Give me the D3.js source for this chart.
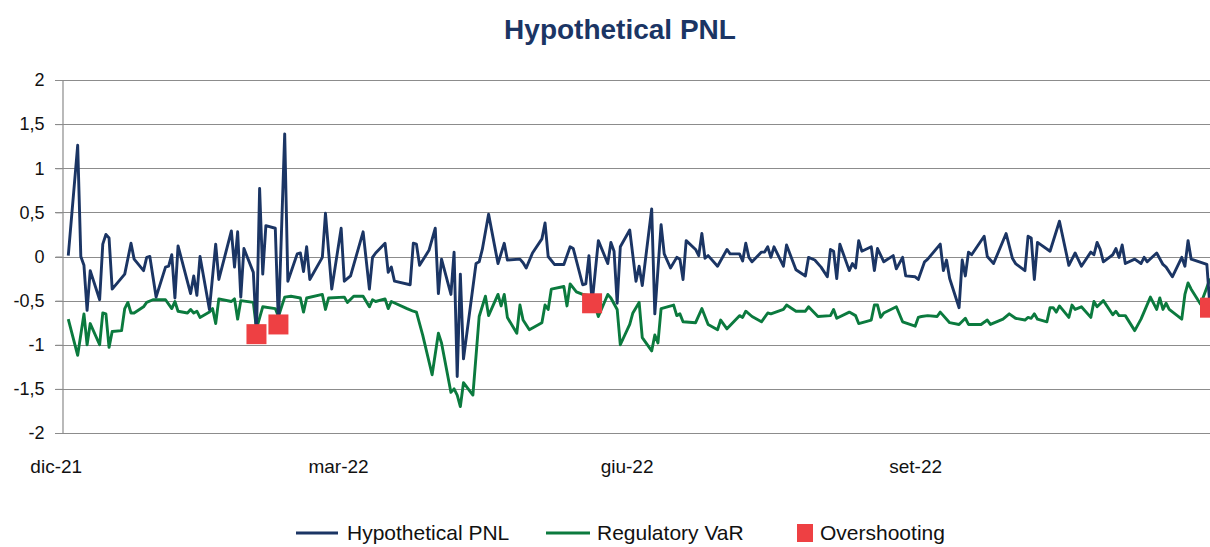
<!DOCTYPE html>
<html>
<head>
<meta charset="utf-8">
<script src="https://cdn.jsdelivr.net/npm/d3@7"></script>
<style>
    body { margin: 0; background: #fff; }
    svg { display: block; font-family: "Liberation Sans", Arial, sans-serif; }
</style>
</head>
<body>
<div id="chart"></div>
<script>
// Hypothetical PNL vs Regulatory VaR, daily values
var pnlDates = ["2021-12-05","2021-12-08","2021-12-09","2021-12-10","2021-12-11","2021-12-12","2021-12-15","2021-12-16","2021-12-17","2021-12-18",
    "2021-12-19","2021-12-23","2021-12-25","2021-12-26","2021-12-29","2021-12-30","2021-12-31","2022-01-01","2022-01-02","2022-01-05",
    "2022-01-06","2022-01-07","2022-01-08","2022-01-09","2022-01-13","2022-01-14","2022-01-15","2022-01-16","2022-01-19","2022-01-21",
    "2022-01-22","2022-01-26","2022-01-27","2022-01-28","2022-01-29","2022-01-30","2022-02-02","2022-02-03","2022-02-04","2022-02-05",
    "2022-02-06","2022-02-09","2022-02-10","2022-02-12","2022-02-13","2022-02-16","2022-02-17","2022-02-18","2022-02-19","2022-02-20",
    "2022-02-24","2022-02-25","2022-02-27","2022-03-02","2022-03-03","2022-03-05","2022-03-09","2022-03-11","2022-03-12","2022-03-13",
    "2022-03-16","2022-03-17","2022-03-18","2022-03-19","2022-03-24","2022-03-25","2022-03-26","2022-03-27","2022-03-30","2022-04-01",
    "2022-04-02","2022-04-03","2022-04-06","2022-04-07","2022-04-08","2022-04-09","2022-04-10","2022-04-14","2022-04-15","2022-04-16",
    "2022-04-18","2022-04-21","2022-04-23","2022-04-24","2022-04-28","2022-04-29","2022-04-30","2022-05-02","2022-05-05","2022-05-06",
    "2022-05-07","2022-05-09","2022-05-12","2022-05-14","2022-05-15","2022-05-18","2022-05-19","2022-05-20","2022-05-21","2022-05-23",
    "2022-05-26","2022-05-27","2022-05-28","2022-05-29","2022-05-30","2022-06-02","2022-06-04","2022-06-05","2022-06-06","2022-06-09",
    "2022-06-10","2022-06-12","2022-06-13","2022-06-15","2022-06-17","2022-06-18","2022-06-19","2022-06-20","2022-06-23","2022-06-24",
    "2022-06-25","2022-06-26","2022-06-27","2022-06-30","2022-07-03","2022-07-04","2022-07-07","2022-07-08","2022-07-09","2022-07-10",
    "2022-07-11","2022-07-14","2022-07-15","2022-07-16","2022-07-17","2022-07-18","2022-07-21","2022-07-22","2022-07-25","2022-07-28",
    "2022-07-29","2022-07-31","2022-08-02","2022-08-04","2022-08-05","2022-08-06","2022-08-07","2022-08-08","2022-08-11","2022-08-12",
    "2022-08-13","2022-08-14","2022-08-15","2022-08-18","2022-08-19","2022-08-20","2022-08-22","2022-08-25","2022-08-26","2022-08-28",
    "2022-08-29","2022-09-01","2022-09-02","2022-09-04","2022-09-05","2022-09-09","2022-09-10","2022-09-11","2022-09-12","2022-09-15",
    "2022-09-16","2022-09-17","2022-09-18","2022-09-19","2022-09-23","2022-09-24","2022-09-26","2022-09-30","2022-10-02","2022-10-03",
    "2022-10-06","2022-10-07","2022-10-08","2022-10-09","2022-10-10","2022-10-14","2022-10-17","2022-10-20","2022-10-22","2022-10-24",
    "2022-10-27","2022-10-28","2022-10-29","2022-10-30","2022-10-31","2022-11-03","2022-11-04","2022-11-05","2022-11-06","2022-11-07",
    "2022-11-10","2022-11-12","2022-11-13","2022-11-14","2022-11-17","2022-11-19","2022-11-20","2022-11-22","2022-11-25","2022-11-26",
    "2022-11-27","2022-11-28","2022-12-03","2022-12-04"];
var pnlValues = [0.01,1.26,0,-0.1,-0.61,-0.16,-0.49,0.14,0.25,0.21,
    -0.37,-0.2,0.15,-0.03,-0.16,-0.01,0,-0.23,-0.46,-0.12,
    -0.11,0.02,-0.47,0.12,-0.42,-0.22,-0.44,0,-0.6,0.14,
    -0.26,0.29,-0.12,0.28,-0.46,0.09,-0.18,-0.88,0.77,-0.2,
    0.35,0.32,-0.77,1.39,-0.28,0.03,0.04,-0.17,0.11,-0.26,
    -0.01,0.49,-0.37,0.32,-0.28,-0.22,0.28,-0.37,-0.01,0.04,
    0.15,-0.18,-0.12,-0.28,-0.32,0.15,0.14,-0.1,0.07,0.32,
    -0.42,-0.03,-0.43,0.05,-1.36,-0.2,-1.16,-0.08,-0.06,0.08,
    0.48,-0.08,0.15,-0.04,-0.03,-0.07,-0.13,0.04,0.2,0.38,
    0,-0.09,-0.09,0.11,0.09,-0.32,-0.31,0.01,-0.53,0.18,
    -0.08,0.16,0.06,-0.53,0.11,0.3,-0.28,-0.11,-0.33,0.54,
    -0.65,0.36,0.03,-0.13,-0.01,-0.03,-0.26,0.18,0.08,0.01,
    0.26,-0.02,0.01,-0.11,0.08,0.03,0.03,-0.05,0.15,-0.01,
    -0.06,0.05,0.05,0.11,-0.01,0.11,-0.11,0.13,-0.15,-0.22,
    -0.01,-0.04,-0.12,-0.23,0.08,0.06,-0.25,0.14,-0.16,-0.08,
    -0.13,0.18,0.06,0.11,-0.16,0.09,-0.06,0.01,-0.14,-0.01,
    -0.22,-0.23,-0.26,-0.06,-0.03,0.14,-0.16,-0.04,-0.25,-0.58,
    -0.04,-0.22,0.05,0.02,0.23,0,-0.08,0.26,-0.02,-0.08,
    -0.16,0.23,0.21,-0.26,0.16,0.06,0.4,-0.1,0.04,-0.11,
    0.05,0.02,0.16,0.08,-0.06,0.02,0.09,-0.01,0.13,-0.08,
    -0.03,-0.08,-0.01,-0.06,0.04,-0.09,-0.12,-0.23,-0.01,-0.11,
    0.18,-0.03,-0.09,-0.58];

var varDates = ["2021-12-05","2021-12-08","2021-12-10","2021-12-11","2021-12-12","2021-12-15","2021-12-16","2021-12-17","2021-12-18","2021-12-19",
    "2021-12-22","2021-12-23","2021-12-24","2021-12-25","2021-12-26","2021-12-29","2021-12-30","2022-01-01","2022-01-05","2022-01-07",
    "2022-01-08","2022-01-09","2022-01-12","2022-01-13","2022-01-14","2022-01-15","2022-01-16","2022-01-19","2022-01-20","2022-01-21",
    "2022-01-22","2022-01-26","2022-01-27","2022-01-28","2022-01-29","2022-02-02","2022-02-03","2022-02-05","2022-02-09","2022-02-10",
    "2022-02-12","2022-02-14","2022-02-17","2022-02-18","2022-02-19","2022-02-24","2022-02-25","2022-02-26","2022-03-03","2022-03-04",
    "2022-03-06","2022-03-09","2022-03-11","2022-03-12","2022-03-13","2022-03-16","2022-03-17","2022-03-18","2022-03-23","2022-03-25",
    "2022-03-26","2022-03-28","2022-03-31","2022-04-02","2022-04-03","2022-04-06","2022-04-07","2022-04-08","2022-04-09","2022-04-10",
    "2022-04-13","2022-04-15","2022-04-17","2022-04-18","2022-04-21","2022-04-22","2022-04-23","2022-04-24","2022-04-27","2022-04-28",
    "2022-04-29","2022-05-01","2022-05-05","2022-05-06","2022-05-07","2022-05-08","2022-05-12","2022-05-13","2022-05-14","2022-05-16",
    "2022-05-18","2022-05-21","2022-05-23","2022-05-26","2022-05-27","2022-05-29","2022-05-30","2022-06-02","2022-06-03","2022-06-05",
    "2022-06-06","2022-06-09","2022-06-10","2022-06-11","2022-06-12","2022-06-16","2022-06-17","2022-06-18","2022-06-19","2022-06-23",
    "2022-06-25","2022-06-27","2022-06-30","2022-07-01","2022-07-03","2022-07-07","2022-07-08","2022-07-09","2022-07-11","2022-07-14",
    "2022-07-16","2022-07-17","2022-07-21","2022-07-22","2022-07-25","2022-07-28","2022-07-29","2022-08-01","2022-08-05","2022-08-06",
    "2022-08-07","2022-08-11","2022-08-13","2022-08-14","2022-08-18","2022-08-19","2022-08-20","2022-08-21","2022-08-22","2022-08-26",
    "2022-08-28","2022-09-01","2022-09-02","2022-09-03","2022-09-05","2022-09-08","2022-09-09","2022-09-12","2022-09-15","2022-09-17",
    "2022-09-18","2022-09-22","2022-09-24","2022-09-25","2022-09-29","2022-10-01","2022-10-03","2022-10-06","2022-10-07","2022-10-08",
    "2022-10-09","2022-10-10","2022-10-13","2022-10-14","2022-10-15","2022-10-16","2022-10-17","2022-10-20","2022-10-21","2022-10-22",
    "2022-10-24","2022-10-27","2022-10-28","2022-10-29","2022-10-31","2022-11-03","2022-11-04","2022-11-05","2022-11-07","2022-11-10",
    "2022-11-12","2022-11-15","2022-11-17","2022-11-18","2022-11-19","2022-11-20","2022-11-21","2022-11-25","2022-11-26","2022-11-27",
    "2022-11-28","2022-12-01","2022-12-03","2022-12-04"];
var varValues = [-0.71,-1.12,-0.65,-1.0,-0.76,-1.0,-0.64,-0.65,-1.03,-0.85,
    -0.84,-0.59,-0.52,-0.64,-0.64,-0.57,-0.52,-0.49,-0.49,-0.59,
    -0.51,-0.62,-0.64,-0.6,-0.64,-0.62,-0.69,-0.63,-0.59,-0.76,
    -0.48,-0.51,-0.48,-0.71,-0.5,-0.52,-0.82,-0.57,-0.59,-0.68,
    -0.46,-0.45,-0.47,-0.63,-0.47,-0.43,-0.6,-0.47,-0.46,-0.52,
    -0.45,-0.45,-0.57,-0.49,-0.51,-0.48,-0.59,-0.51,-0.59,-0.62,
    -0.63,-0.89,-1.34,-0.87,-0.98,-1.54,-1.5,-1.57,-1.7,-1.43,
    -1.57,-0.68,-0.45,-0.67,-0.43,-0.56,-0.43,-0.69,-0.87,-0.55,
    -0.72,-0.83,-0.75,-0.55,-0.6,-0.37,-0.34,-0.56,-0.31,-0.4,
    -0.43,-0.45,-0.68,-0.43,-0.47,-0.6,-1.0,-0.77,-0.64,-0.52,
    -0.92,-1.07,-0.89,-0.98,-0.59,-0.55,-0.67,-0.65,-0.74,-0.75,
    -0.59,-0.77,-0.83,-0.72,-0.82,-0.67,-0.69,-0.62,-0.68,-0.74,
    -0.64,-0.65,-0.6,-0.55,-0.62,-0.62,-0.57,-0.68,-0.67,-0.6,
    -0.7,-0.63,-0.67,-0.76,-0.72,-0.55,-0.55,-0.69,-0.64,-0.57,
    -0.74,-0.79,-0.69,-0.68,-0.67,-0.68,-0.63,-0.75,-0.77,-0.7,
    -0.77,-0.77,-0.72,-0.77,-0.71,-0.65,-0.7,-0.72,-0.69,-0.7,
    -0.65,-0.71,-0.74,-0.58,-0.58,-0.63,-0.56,-0.69,-0.55,-0.6,
    -0.57,-0.69,-0.51,-0.57,-0.5,-0.66,-0.62,-0.67,-0.67,-0.84,
    -0.71,-0.46,-0.6,-0.47,-0.6,-0.53,-0.6,-0.71,-0.43,-0.3,
    -0.37,-0.54,-0.35,-0.25];

// days where the PNL falls below the VaR
var overDates = ["2022-02-03","2022-02-10","2022-05-21","2022-12-04"];
var overValues = [-0.88,-0.77,-0.53,-0.58];

var xTicks = ["2021-12-01","2022-03-01","2022-06-01","2022-09-01"];
var yTicks = [-2,-1.5,-1,-0.5,0,0.5,1,1.5,2];

var seriesNames = ["Hypothetical PNL","Regulatory VaR","Overshooting"];
var colors = { pnl: "#1b3564", var: "#0b7a3e", over: "#ee4043" };

var width = 1210, height = 547;
var margin = { left: 62, right: 0, top: 80, bottom: 114 };

var parseDate = d3.timeParse("%Y-%m-%d");

var itLocale = d3.timeFormatLocale({
    dateTime: "%A %e %B %Y, %X", date: "%d/%m/%Y", time: "%H:%M:%S",
    periods: ["AM", "PM"],
    days: ["domenica","lunedì","martedì","mercoledì","giovedì","venerdì","sabato"],
    shortDays: ["dom","lun","mar","mer","gio","ven","sab"],
    months: ["gennaio","febbraio","marzo","aprile","maggio","giugno","luglio","agosto","settembre","ottobre","novembre","dicembre"],
    shortMonths: ["gen","feb","mar","apr","mag","giu","lug","ago","set","ott","nov","dic"]
});
var numLocale = d3.formatLocale({ decimal: ",", thousands: ".", grouping: [3], currency: ["€", ""], minus: "-" });

var pnl = pnlDates.map(function (d, i) { return { date: parseDate(d), value: pnlValues[i] }; });
var vr = varDates.map(function (d, i) { return { date: parseDate(d), value: varValues[i] }; });
var over = overDates.map(function (d, i) { return { date: parseDate(d), value: overValues[i] }; });

var svg = d3.select("#chart").append("svg")
    .attr("width", width)
    .attr("height", height);

var x = d3.scaleTime()
    .domain([parseDate("2021-12-03"), parseDate("2022-12-04")])
    .range([margin.left, width - margin.right]);
var y = d3.scaleLinear()
    .domain([-2, 2])
    .range([height - margin.bottom, margin.top]);

// title
svg.append("text")
    .attr("x", 620)
    .attr("y", 39)
    .attr("text-anchor", "middle")
    .attr("font-size", "28px")
    .attr("font-weight", "bold")
    .attr("fill", colors.pnl)
    .text("Hypothetical PNL");

// gridlines
svg.append("g")
    .attr("class", "grid")
    .selectAll("line")
    .data(yTicks)
    .enter().append("line")
    .attr("x1", margin.left - 7)
    .attr("x2", width - margin.right)
    .attr("y1", function (d) { return Math.round(y(d)) + 0.5; })
    .attr("y2", function (d) { return Math.round(y(d)) + 0.5; })
    .attr("stroke", "#8c8c8c")
    .attr("stroke-width", 1.2);

// y axis
var yAxis = svg.append("g")
    .attr("class", "y axis")
    .attr("transform", "translate(" + (margin.left + 0.5) + ",0)")
    .call(d3.axisLeft(y).tickValues(yTicks).tickSize(7).tickPadding(11)
        .tickFormat(numLocale.format(",")));
yAxis.select(".domain").attr("stroke", "#8c8c8c").attr("stroke-width", 1.2);
yAxis.selectAll(".tick line").attr("stroke", "#8c8c8c");
yAxis.selectAll("text")
    .attr("font-size", "18px")
    .attr("font-family", "Liberation Sans, Arial, sans-serif")
    .attr("fill", "#111");

// x axis labels only
var xAxis = svg.append("g")
    .attr("class", "x axis")
    .attr("transform", "translate(0," + (height - margin.bottom) + ")")
    .call(d3.axisBottom(x).tickValues(xTicks.map(parseDate)).tickSize(0).tickPadding(27)
        .tickFormat(itLocale.format("%b-%y")));
xAxis.select(".domain").remove();
xAxis.selectAll("text")
    .attr("font-size", "19px")
    .attr("font-family", "Liberation Sans, Arial, sans-serif")
    .attr("fill", "#111");

svg.append("clipPath")
    .attr("id", "plot-clip")
    .append("rect")
    .attr("x", margin.left)
    .attr("y", 0)
    .attr("width", width - margin.left - margin.right)
    .attr("height", height - margin.bottom + 20);

var plot = svg.append("g").attr("clip-path", "url(#plot-clip)");

var line = d3.line()
    .x(function (d) { return x(d.date); })
    .y(function (d) { return y(d.value); });

plot.append("path")
    .datum(vr)
    .attr("fill", "none")
    .attr("stroke", colors.var)
    .attr("stroke-width", 2.9)
    .attr("stroke-linejoin", "round")
    .attr("d", line);

plot.append("path")
    .datum(pnl)
    .attr("fill", "none")
    .attr("stroke", colors.pnl)
    .attr("stroke-width", 2.9)
    .attr("stroke-linejoin", "round")
    .attr("d", line);

plot.selectAll("rect.over")
    .data(over)
    .enter().append("rect")
    .attr("class", "over")
    .attr("x", function (d) { return x(d.date) - 10; })
    .attr("y", function (d) { return y(d.value) - 10; })
    .attr("width", 20)
    .attr("height", 20)
    .attr("fill", colors.over);

// legend
var legend = svg.append("g").attr("class", "legend");
var legendY = 533;

legend.append("line")
    .attr("x1", 296).attr("x2", 338)
    .attr("y1", legendY).attr("y2", legendY)
    .attr("stroke", colors.pnl).attr("stroke-width", 3);
legend.append("text")
    .attr("x", 347).attr("y", legendY + 7)
    .attr("font-size", "21px").attr("fill", "#111")
    .text(seriesNames[0]);

legend.append("line")
    .attr("x1", 546).attr("x2", 590)
    .attr("y1", legendY).attr("y2", legendY)
    .attr("stroke", colors.var).attr("stroke-width", 3);
legend.append("text")
    .attr("x", 597).attr("y", legendY + 7)
    .attr("font-size", "21px").attr("fill", "#111")
    .text(seriesNames[1]);

legend.append("rect")
    .attr("x", 797).attr("y", legendY - 9)
    .attr("width", 16).attr("height", 18)
    .attr("fill", colors.over);
legend.append("text")
    .attr("x", 820).attr("y", legendY + 7)
    .attr("font-size", "21px").attr("fill", "#111")
    .text(seriesNames[2]);
</script>
</body>
</html>
